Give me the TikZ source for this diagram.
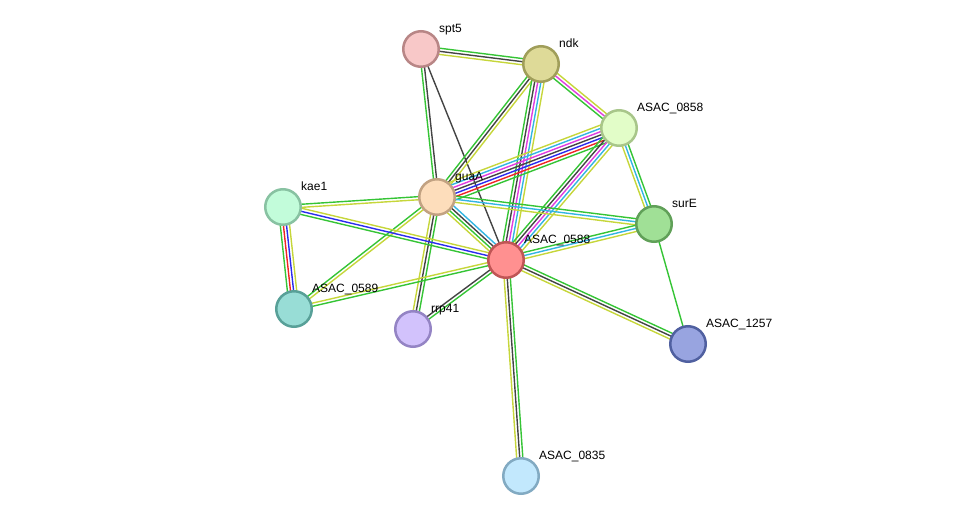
\documentclass[tikz,border=0pt]{standalone}
\usepackage{fontspec}
\setmainfont{Liberation Sans}
\usetikzlibrary{calc,backgrounds}

% evidence line colours
\definecolor{lnG}{HTML}{35C435}
\definecolor{lnY}{HTML}{C6D63A}
\definecolor{lnK}{HTML}{444444}
\definecolor{lnM}{HTML}{E03CE0}
\definecolor{lnC}{HTML}{33B5E2}
\definecolor{lnB}{HTML}{2B2BEE}
\definecolor{lnR}{HTML}{F02424}

% protein colours (border / fill)
\definecolor{spt5B}{HTML}{B88686}\definecolor{spt5F}{HTML}{F8C8C8}
\definecolor{ndkB}{HTML}{A09E5A}\definecolor{ndkF}{HTML}{DEDA98}
\definecolor{a0858B}{HTML}{A8C68A}\definecolor{a0858F}{HTML}{E2FDC8}
\definecolor{guaAB}{HTML}{C2A282}\definecolor{guaAF}{HTML}{FDDDBB}
\definecolor{kae1B}{HTML}{88C2A2}\definecolor{kae1F}{HTML}{C2FCDA}
\definecolor{surEB}{HTML}{60A058}\definecolor{surEF}{HTML}{A0E096}
\definecolor{a0588B}{HTML}{C05555}\definecolor{a0588F}{HTML}{FF9090}
\definecolor{a0589B}{HTML}{58A098}\definecolor{a0589F}{HTML}{98DDD6}
\definecolor{rrp41B}{HTML}{9484C4}\definecolor{rrp41F}{HTML}{D2C2FC}
\definecolor{a1257B}{HTML}{5060A0}\definecolor{a1257F}{HTML}{98A4E0}
\definecolor{a0835B}{HTML}{82AAC2}\definecolor{a0835F}{HTML}{C2E8FD}

\tikzset{
  prot/.style n args={2}{circle, minimum size=35.5pt, inner sep=0pt, line width=2.5pt, draw=#1, fill=#2},
  plabel/.style={anchor=base west, inner sep=0pt, font=\fontsize{12}{14}\selectfont},
  link/.style={line width=1.4pt},
}

\begin{document}
\begin{tikzpicture}[x=1pt,y=-1pt]
    \useasboundingbox (0,0) rectangle (975,522);

    % Proteins
    \foreach \n/\x/\y/\txt in {spt5/421/49/spt5, ndk/541/64/ndk, a0858/619/128/ASAC\_0858,
        guaA/437/197/guaA, kae1/283/207/kae1, surE/654/224/surE, a0588/506/260/ASAC\_0588,
        a0589/294/309/ASAC\_0589, rrp41/413/329/rrp41, a1257/688/344/ASAC\_1257,
        a0835/521/476/ASAC\_0835} {
        \node[prot={\n B}{\n F}] (\n) at (\x,\y) {};
        \node[plabel] (\n-lbl) at ($(\n.center)+(18,-17)$) {\txt};
    }

    % Interactions (one line per evidence channel)
    \begin{scope}[on background layer]
    \foreach \a/\b/\cols in {spt5/ndk/{lnY,lnK,lnG}, spt5/guaA/{lnG,lnK}, spt5/a0588/{lnK},
        ndk/a0858/{lnG,lnM,lnY}, ndk/guaA/{lnG,lnK,lnY}, ndk/a0588/{lnG,lnK,lnM,lnC,lnY},
        guaA/a0858/{lnG,lnR,lnB,lnK,lnM,lnC,lnY}, a0858/a0588/{lnG,lnK,lnM,lnC,lnY},
        a0858/surE/{lnY,lnC,lnG}, guaA/surE/{lnY,lnC,lnG}, kae1/guaA/{lnY,lnG},
        guaA/a0588/{lnY,lnG,lnK,lnC}, guaA/a0589/{lnG,lnY}, guaA/rrp41/{lnY,lnK,lnG},
        kae1/a0588/{lnG,lnB,lnY}, kae1/a0589/{lnG,lnR,lnB,lnY}, a0589/a0588/{lnG,lnY},
        rrp41/a0588/{lnG,lnK}, surE/a0588/{lnG,lnC,lnY}, surE/a1257/{lnG},
        a0588/a1257/{lnY,lnK,lnG}, a0588/a0835/{lnY,lnK,lnG}} {
        \foreach \c [count=\i] in \cols {\xdef\nlines{\i}}
        \foreach \c [count=\i] in \cols {
            \pgfmathsetmacro\off{(\i-(\nlines+1)/2)*3.1}
            \draw[link,\c] ($(\a.center)!\off pt!90:(\b.center)$) -- ($(\b.center)!\off pt!-90:(\a.center)$);
        }
    }
    \end{scope}
\end{tikzpicture}
\end{document}
